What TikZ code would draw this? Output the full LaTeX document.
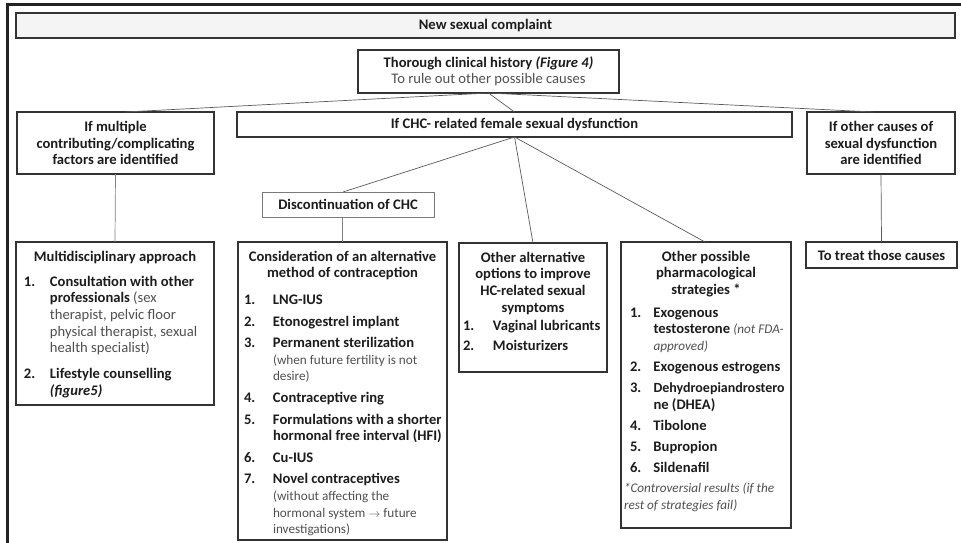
\documentclass[tikz,border=0pt]{standalone}
\usepackage{fontspec}
\setmainfont{Carlito}
\definecolor{bd}{HTML}{333333}
\definecolor{bdl}{HTML}{7A7A7A}
\definecolor{ln}{HTML}{5A5A5A}
\definecolor{tx}{HTML}{1C1C1C}
\definecolor{tg}{HTML}{505050}
\definecolor{fillg}{HTML}{F4F4F4}
\definecolor{fr}{HTML}{222222}
\newcommand\pb[4]{\parbox[c][#2pt][#3]{#1pt}{#4}}
\newcommand\rg[1]{{\mdseries\color{tg}#1}}
\newcommand\sm[1]{{\mdseries\fontsize{13.2}{16.6}\selectfont\color{tg}#1}}
\newcommand\ml[1]{\mbox{#1}}
\newlength\igap
\newlength\tind
\newcommand\li[2][\igap]{\par\vspace{#1}\hangindent=\tind\hangafter=1\noindent\makebox[\tind][l]{#2}\ignorespaces}
\newcommand\lstart[3]{\par\raggedright\leftskip=#1pt\rightskip=0pt plus 1fil\setlength\tind{#2pt}\setlength\igap{#3pt}}
\tikzset{
  bx/.style={draw=bd, line width=1.3pt, fill=white, inner sep=0pt, outer sep=0pt, anchor=north west, text=tx},
  cn/.style={draw=ln, line width=0.7pt},
}
\begin{document}
\begin{tikzpicture}[x=1pt,y=-1pt,font=\fontsize{14.6}{16.6}\selectfont]
\useasboundingbox (0,0) rectangle (961,543);
\draw[line width=3pt, draw=fr] (961,5) -- (7,5) -- (7,543);

\node[bx, fill=fillg] (new) at (16,13) {\pb{939}{25}{c}{\centering\bfseries New sexual complaint}};

\node[bx] (thor) at (358,50) {\pb{261}{43}{c}{\centering\bfseries Thorough clinical history \textit{(Figure 4)}\\[-1pt]\rg{To rule out other possible causes}}};

\node[bx] (multi) at (17,112) {\pb{197}{62}{c}{\centering\bfseries If multiple\\contributing/complicating\\factors are identified}};

\node[bx] (chc) at (237,112) {\pb{555}{25}{c}{\centering\bfseries If CHC- related female sexual dysfunction}};

\node[bx] (other) at (807,112) {\pb{148}{62}{c}{\centering\bfseries If other causes of\\sexual dysfunction\\are identified}};

\node[bx, draw=bdl, line width=1pt] (disc) at (262,192) {\pb{172}{25}{c}{\centering\bfseries Discontinuation of CHC}};

\node[bx] (treat) at (806,242) {\pb{151}{26}{c}{\centering\bfseries To treat those causes}};

\node[bx] (mdis) at (16,242) {\pb{198}{163}{t}{\bfseries\vspace*{9pt}\centering Multidisciplinary approach\par
\lstart{8}{26}{9.5}%
\li[8.5pt]{1.}\ml{Consultation with other}\newline\ml{professionals \rg{(sex}}\newline\ml{\rg{therapist, pelvic floor}}\newline\ml{\rg{physical therapist, sexual}}\newline\ml{\rg{health specialist)}}
\li{2.}\ml{Lifestyle counselling}\newline\ml{\textit{(figure5)}}}};

\node[bx] (cons) at (238,242) {\pb{209}{298}{t}{\bfseries\vspace*{9pt}\centering \ml{Consideration of an alternative}\\method of contraception\par
\lstart{6}{29}{5}%
\li[10pt]{1.}LNG-IUS
\li{2.}Etonogestrel implant
\li{3.}\ml{Permanent sterilization}\newline\ml{\sm{(when future fertility is not}}\newline\ml{\sm{desire)}}
\li{4.}Contraceptive ring
\li{5.}\ml{Formulations with a shorter}\newline\ml{hormonal free interval (HFI)}
\li{6.}Cu-IUS
\li{7.}\ml{Novel contraceptives}\newline\ml{\sm{(without affecting the}}\newline\ml{\sm{hormonal system $\rightarrow$ future}}\newline\ml{\sm{investigations)}}}};

\node[bx] (alt) at (459,243) {\pb{148}{129}{t}{\bfseries\vspace*{9pt}\centering Other alternative\\options to improve\\HC-related sexual\\symptoms\par
\lstart{4}{30}{3.5}%
\li[2pt]{1.}\ml{Vaginal lubricants}
\li{2.}\ml{Moisturizers}}};

\node[bx] (pharm) at (621,242) {\pb{170}{286}{t}{\bfseries\vspace*{9pt}\centering Other possible\\pharmacological\\strategies *\par
\lstart{9}{23.5}{4.5}%
\li[6pt]{1.}\ml{Exogenous}\newline\ml{testosterone \sm{\itshape(not FDA-}}\newline\ml{\sm{\itshape approved)}}
\li{2.}\ml{Exogenous estrogens}
\li{3.}\ml{\fontsize{14}{16.6}\selectfont Dehydroepiandrostero}\newline\ml{ne (DHEA)}
\li{4.}Tibolone
\li{5.}Bupropion
\li{6.}Sildenafil
\par\vspace{4pt}\leftskip=3pt\hangindent=0pt\noindent\ml{\sm{\itshape *Controversial results (if the}}\newline\ml{\sm{\itshape rest of strategies fail)}}}};

\draw[cn] (thor.south) -- ([xshift=10pt]multi.north);
\draw[cn] (thor.south) -- (chc.north);
\draw[cn] (thor.south) -- ([xshift=-8pt]other.north);
\draw[cn, draw=gray] (multi.south) -- (mdis.north);
\draw[cn] (other.south) -- (treat.north);
\draw[cn] (chc.south) -- ([xshift=-5pt]disc.north);
\draw[cn] (chc.south) -- (alt.north);
\draw[cn] (chc.south) -- ([xshift=-1pt]pharm.north);
\draw[cn, draw=gray] (cons.north |- disc.south) -- (cons.north);
\end{tikzpicture}
\end{document}
